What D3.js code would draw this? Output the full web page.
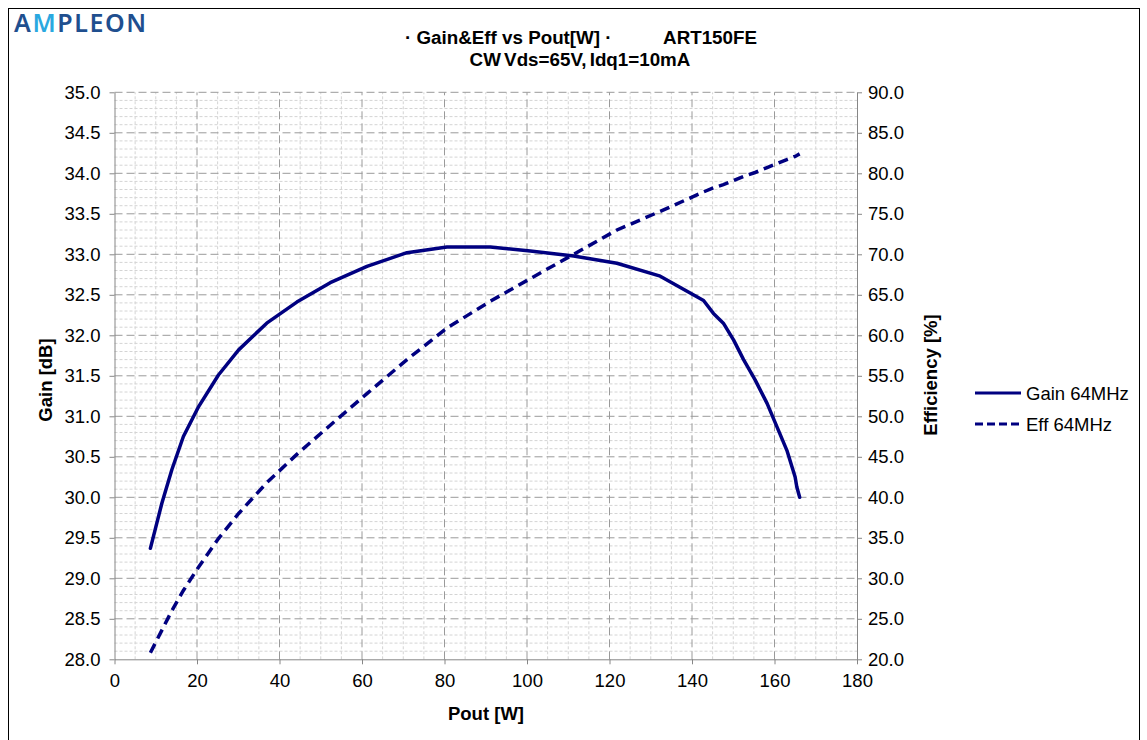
<!DOCTYPE html>
<html>
<head>
<meta charset="utf-8">
<script src="https://cdn.jsdelivr.net/npm/d3@7"></script>
<style>
  body { margin: 0; background: #fff; }
  svg { display: block; font-family: "Liberation Sans", Arial, sans-serif; }
</style>
</head>
<body>
<div id="chart"></div>
<script>
// data
const pout = [8.7, 11.5, 13.9, 16.7, 20.4, 25.2, 30.1, 36.9, 44.2, 52.3, 61.2, 70.9, 80.6, 91.1, 100.8,
  111.3, 121.8, 132.3, 142.8, 145.2, 147.6, 150.1, 152.5, 155.3, 158.2, 160.6, 163, 165, 165.4, 166.1];
const gain64 = [29.37, 29.93, 30.34, 30.75, 31.12, 31.51, 31.82, 32.15, 32.41, 32.65, 32.85, 33.02, 33.09, 33.09, 33.04,
  32.98, 32.89, 32.73, 32.43, 32.27, 32.15, 31.94, 31.70, 31.45, 31.16, 30.87, 30.58, 30.25, 30.13, 30.0];
const eff64 = [20.8, 23.6, 26.0, 28.5, 31.4, 34.9, 38.0, 41.8, 45.3, 48.9, 52.8, 57.0, 60.9, 64.2, 67.0,
  70.0, 73.0, 75.3, 77.7, 78.2, 78.6, 79.1, 79.6, 80.1, 80.7, 81.2, 81.7, 82.1, 82.2, 82.4];
const xTicks = d3.range(0, 181, 20);
const gainTicks = d3.range(28, 35.01, 0.5);
const effTicks = d3.range(20, 90.01, 5);
const seriesNames = ["Gain 64MHz", "Eff 64MHz"];

const width = 1147;
const height = 740;
const navy = "#000080";

const svg = d3.select("#chart").append("svg")
    .attr("width", width)
    .attr("height", height);

// outer frame
svg.append("rect")
    .attr("x", 8.5).attr("y", 8.5)
    .attr("width", 1131).attr("height", 745)
    .attr("fill", "none")
    .attr("stroke", "#000");

// logo
const logo = svg.append("text")
    .attr("x", 14).attr("y", 32)
    .style("font-family", "'Noto Sans', sans-serif")
    .style("font-size", "25px")
    .style("font-weight", 600)
    .style("letter-spacing", "1.6px")
    .attr("fill", "#1f4f8f");
logo.append("tspan").text("A");
logo.append("tspan").attr("fill", "#2aa8e0").text("M");
logo.append("tspan").text("PLEON");

// title
svg.append("text")
    .attr("x", 405).attr("y", 44)
    .style("font-size", "18.8px").style("font-weight", "bold")
    .text("\u00b7 Gain&Eff vs Pout[W] \u00b7");
svg.append("text")
    .attr("x", 757).attr("y", 44)
    .attr("text-anchor", "end")
    .style("font-size", "18.8px").style("font-weight", "bold")
    .text("ART150FE");
svg.append("text")
    .attr("x", 580).attr("y", 66)
    .attr("text-anchor", "middle")
    .style("font-size", "18.8px").style("font-weight", "bold")
    .style("word-spacing", "-2px")
    .text("CW Vds=65V, Idq1=10mA");

const x = d3.scaleLinear().domain([0, 180]).range([114.5, 857]);
const yGain = d3.scaleLinear().domain([28, 35]).range([659.3, 92.3]);
const yEff = d3.scaleLinear().domain([20, 90]).range([659.3, 92.3]);

// grid
const grid = svg.append("g");
grid.selectAll(".vminor")
    .data(d3.range(0, 181, 5).filter(v => v % 20 !== 0))
    .join("line")
    .attr("x1", d => x(d)).attr("x2", d => x(d))
    .attr("y1", yGain(28)).attr("y2", yGain(35))
    .attr("stroke", "#d4d4d4").attr("stroke-dasharray", "3,2");
grid.selectAll(".hminor")
    .data(d3.range(0, 71).map(i => 28 + i * 0.1).filter((v, i) => i % 5 !== 0))
    .join("line")
    .attr("x1", x(0)).attr("x2", x(180))
    .attr("y1", d => yGain(d)).attr("y2", d => yGain(d))
    .attr("stroke", "#d4d4d4").attr("stroke-dasharray", "3,2");
grid.selectAll(".vmajor")
    .data(xTicks.slice(1, -1))
    .join("line")
    .attr("x1", d => x(d)).attr("x2", d => x(d))
    .attr("y1", yGain(28)).attr("y2", yGain(35))
    .attr("stroke", "#9a9a9a").attr("stroke-dasharray", "8,4");
grid.selectAll(".hmajor")
    .data(gainTicks.slice(1))
    .join("line")
    .attr("x1", x(0)).attr("x2", x(180))
    .attr("y1", d => yGain(d)).attr("y2", d => yGain(d))
    .attr("stroke", "#9a9a9a").attr("stroke-dasharray", "8,4");

// axes
function styleAxis(g) {
  g.selectAll(".domain, line").attr("stroke", "#868686");
  g.selectAll("text").style("font-size", "18.5px").attr("fill", "#000")
      .style("font-family", "'Liberation Sans', Arial, sans-serif");
}
svg.append("g")
    .attr("transform", `translate(0,${yGain(28)})`)
    .call(d3.axisBottom(x).tickValues(xTicks).tickSize(5).tickSizeOuter(0).tickPadding(10))
    .call(styleAxis);
svg.append("g")
    .attr("transform", `translate(${x(0)},0)`)
    .call(d3.axisLeft(yGain).tickValues(gainTicks).tickFormat(d3.format(".1f")).tickSize(5).tickSizeOuter(0).tickPadding(9))
    .call(styleAxis);
svg.append("g")
    .attr("transform", `translate(${x(180)},0)`)
    .call(d3.axisRight(yEff).tickValues(effTicks).tickFormat(d3.format(".1f")).tickSize(5).tickSizeOuter(0).tickPadding(6))
    .call(styleAxis);

// axis titles
svg.append("text")
    .attr("x", 486).attr("y", 720)
    .attr("text-anchor", "middle")
    .style("font-size", "18.5px").style("font-weight", "bold")
    .text("Pout [W]");
svg.append("text")
    .attr("transform", "translate(52,380) rotate(-90)")
    .attr("text-anchor", "middle")
    .style("font-size", "18.5px").style("font-weight", "bold")
    .text("Gain [dB]");
svg.append("text")
    .attr("transform", "translate(937,375) rotate(-90)")
    .attr("text-anchor", "middle")
    .style("font-size", "18.5px").style("font-weight", "bold")
    .text("Efficiency [%]");

// curves
const pts = pout.map((p, i) => ({ p: p, g: gain64[i], e: eff64[i] }));
svg.append("path")
    .datum(pts)
    .attr("fill", "none")
    .attr("stroke", navy)
    .attr("stroke-width", 3.5)
    .attr("stroke-linejoin", "round")
    .attr("stroke-linecap", "round")
    .attr("d", d3.line().x(d => x(d.p)).y(d => yGain(d.g)));
svg.append("path")
    .datum(pts)
    .attr("fill", "none")
    .attr("stroke", navy)
    .attr("stroke-width", 3.5)
    .attr("stroke-dasharray", "10,6")
    .attr("d", d3.line().x(d => x(d.p)).y(d => yEff(d.e)));

// legend
const legend = svg.append("g").attr("transform", "translate(975,393)");
seriesNames.forEach((name, i) => {
  legend.append("line")
      .attr("x1", 0).attr("x2", 46)
      .attr("y1", i * 31).attr("y2", i * 31)
      .attr("stroke", navy).attr("stroke-width", 3)
      .attr("stroke-dasharray", i === 1 ? "8,4" : null);
  legend.append("text")
      .attr("x", 51).attr("y", i * 31 + 7)
      .style("font-size", "18.5px")
      .text(name);
});
</script>
</body>
</html>
